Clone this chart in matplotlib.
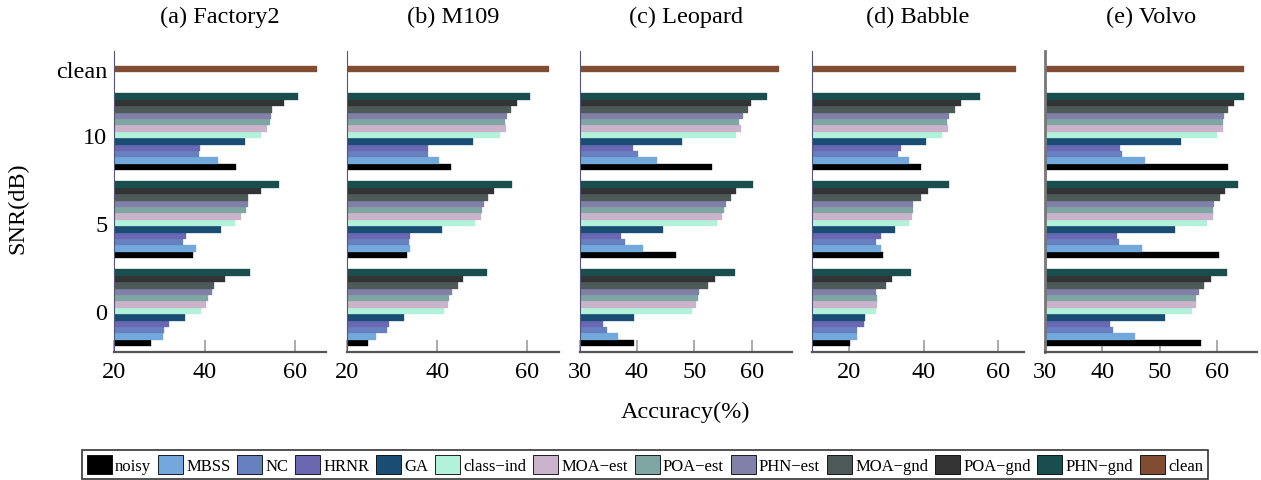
import matplotlib
matplotlib.use("Agg")
import matplotlib.pyplot as plt
import numpy as np
from matplotlib.patches import Patch

plt.rcParams['font.family'] = ['Liberation Serif', 'DejaVu Serif']
plt.rcParams['mathtext.fontset'] = 'stix'

MINUS = "\u2212"
series = ["noisy", "MBSS", "NC", "HRNR", "GA", "class" + MINUS + "ind",
          "MOA" + MINUS + "est", "POA" + MINUS + "est", "PHN" + MINUS + "est",
          "MOA" + MINUS + "gnd", "POA" + MINUS + "gnd", "PHN" + MINUS + "gnd", "clean"]
colors = ["#000000", "#72a8dc", "#6680c0", "#6a67b3", "#1a4d73", "#b3f2da",
          "#cbb3cc", "#80a6a3", "#8080a8", "#4d5a59", "#333333", "#1a4d4d", "#804d33"]

snr_labels = ["0", "5", "10", "clean"]
snr_pos = [0, 5, 10, 13.75]

titles = ["(a) Factory2", "(b) M109", "(c) Leopard", "(d) Babble", "(e) Volvo"]

# values per noise type: for each series (noisy..PHN-gnd) values at SNR 0, 5, 10
factory2 = {
    "noisy": [28.1, 37.5, 47.0], "MBSS": [30.8, 38.1, 43.0], "NC": [31.0, 35.3, 38.8],
    "HRNR": [32.1, 35.9, 39.0], "GA": [35.7, 43.7, 49.0], "class-ind": [39.3, 46.8, 52.6],
    "MOA-est": [40.4, 48.1, 53.9], "POA-est": [40.8, 49.3, 54.6], "PHN-est": [41.7, 49.7, 54.8],
    "MOA-gnd": [42.1, 49.7, 55.0], "POA-gnd": [44.6, 52.6, 57.7], "PHN-gnd": [50.1, 56.6, 60.8],
}
m109 = {
    "noisy": [24.6, 33.3, 43.0], "MBSS": [26.4, 33.9, 40.4], "NC": [28.9, 33.7, 37.9],
    "HRNR": [29.3, 33.9, 37.9], "GA": [32.6, 41.0, 47.9], "class-ind": [41.5, 48.3, 53.9],
    "MOA-est": [42.4, 49.7, 55.2], "POA-est": [42.6, 49.9, 55.0], "PHN-est": [43.2, 50.3, 55.4],
    "MOA-gnd": [44.6, 51.2, 56.3], "POA-gnd": [45.7, 52.5, 57.6], "PHN-gnd": [51.0, 56.5, 60.5],
}
leopard = {
    "noisy": [39.5, 46.8, 53.1], "MBSS": [36.7, 41.0, 43.5], "NC": [34.8, 37.9, 40.2],
    "HRNR": [34.1, 37.2, 39.3], "GA": [39.5, 44.5, 47.8], "class-ind": [49.6, 54.0, 57.3],
    "MOA-est": [50.3, 54.8, 58.1], "POA-est": [50.6, 55.2, 57.8], "PHN-est": [50.8, 55.5, 58.5],
    "MOA-gnd": [52.4, 56.4, 59.4], "POA-gnd": [53.6, 57.3, 59.9], "PHN-gnd": [57.1, 60.2, 62.7],
}
babble = {
    "noisy": [20.2, 29.1, 39.3], "MBSS": [22.1, 28.5, 36.1], "NC": [22.1, 27.2, 33.1],
    "HRNR": [23.9, 28.5, 33.9], "GA": [24.2, 32.3, 40.6], "class-ind": [27.2, 36.1, 44.9],
    "MOA-est": [27.4, 36.9, 46.5], "POA-est": [27.4, 37.1, 46.3], "PHN-est": [27.2, 37.1, 46.8],
    "MOA-gnd": [29.9, 39.3, 48.4], "POA-gnd": [31.5, 41.2, 50.0], "PHN-gnd": [36.6, 46.8, 55.2],
}
volvo = {
    "noisy": [57.2, 60.3, 61.9], "MBSS": [45.7, 46.9, 47.4], "NC": [41.9, 42.9, 43.4],
    "HRNR": [41.3, 42.6, 43.1], "GA": [50.9, 52.7, 53.7], "class-ind": [55.6, 58.3, 60.0],
    "MOA-est": [56.3, 59.3, 61.0], "POA-est": [56.3, 59.3, 61.0], "PHN-est": [56.9, 59.5, 61.2],
    "MOA-gnd": [57.7, 60.5, 61.9], "POA-gnd": [59.0, 61.4, 63.0], "PHN-gnd": [61.7, 63.7, 64.7],
}
clean_acc = [65.0, 64.7, 64.8, 64.8, 64.7]

datasets = [factory2, m109, leopard, babble, volvo]
xmins = [20, 20, 30, 10, 30]
xticks = [[20, 40, 60], [20, 40, 60], [30, 40, 50, 60], [20, 40, 60], [30, 40, 50, 60]]
XMAX = 67

keys = ["noisy", "MBSS", "NC", "HRNR", "GA", "class-ind", "MOA-est", "POA-est",
        "PHN-est", "MOA-gnd", "POA-gnd", "PHN-gnd"]

W, H = 1261, 481
fig = plt.figure(figsize=(W / 100, H / 100), dpi=100)

ax_lefts = [114.3, 347.0, 579.7, 812.0, 1045.0]
ax_w = 212.0
ax_top, ax_bot = 52.3, 353.3
slot = 0.3636
FS = 17.5

for p in range(5):
    ax = fig.add_axes([ax_lefts[p] / W, 1 - ax_bot / H, ax_w / W, (ax_bot - ax_top) / H])
    ax.set_axisbelow(True)
    data = datasets[p]
    for i, k in enumerate(keys):
        ys = [snr_pos[j] + (i - 5) * slot for j in range(3)]
        ax.barh(ys, data[k], height=slot, left=0, color=colors[i],
                edgecolor=colors[i], linewidth=0.25)
    ax.barh([snr_pos[3]], [clean_acc[p]], height=slot, left=0, color=colors[12],
            edgecolor=colors[12], linewidth=0.25)
    ax.set_xlim(xmins[p], XMAX)
    ax.set_ylim(-2.35, 14.76)
    ax.set_xticks(xticks[p])
    ax.tick_params(axis='x', direction='in', length=9, width=1.4, color='#aaaaaa',
                   labelsize=FS, pad=6)
    ax.set_yticks(snr_pos)
    if p == 0:
        ax.set_yticklabels(snr_labels)
        ax.tick_params(axis='y', length=0, labelsize=FS, pad=5)
        ax.set_ylabel("SNR(dB)", fontsize=FS)
        ax.yaxis.set_label_coords(-0.405, 0.482)
    else:
        ax.tick_params(axis='y', length=0, labelleft=False)
    ax.spines['top'].set_visible(False)
    ax.spines['right'].set_visible(False)
    ax.spines['bottom'].set_color('#555555')
    ax.spines['bottom'].set_linewidth(1.6)
    if p == 4:
        ax.spines['left'].set_color('#777777')
        ax.spines['left'].set_linewidth(2.0)
    else:
        ax.spines['left'].set_color('#555577')
        ax.spines['left'].set_linewidth(0.8)
    ax.set_title(titles[p], fontsize=FS, pad=21)
    if p == 2:
        ax.set_xlabel("Accuracy(%)", fontsize=FS, labelpad=14)

handles = [Patch(facecolor=c, edgecolor='black', linewidth=0.6) for c in colors]
leg = fig.legend(handles, series, loc='upper center', ncol=13,
                 bbox_to_anchor=(645 / W, 1 - 451 / H), fontsize=12,
                 handlelength=1.5, handleheight=1.4, handletextpad=0.2,
                 columnspacing=0.4, borderpad=0.3, frameon=True, fancybox=False,
                 borderaxespad=0)
leg.get_frame().set_edgecolor('black')
leg.get_frame().set_linewidth(1.2)

fig.savefig("out.png", dpi=100)
